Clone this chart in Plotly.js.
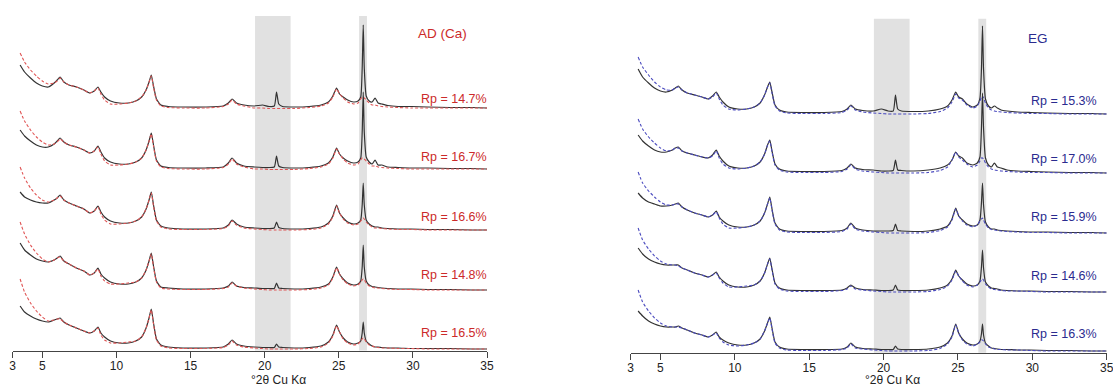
<!DOCTYPE html>
<html>
<head>
<meta charset="utf-8">
<script src="https://cdn.plot.ly/plotly-3.0.1.min.js"></script>
<style>html,body{margin:0;padding:0;background:#fff;}#chart{width:1113px;height:388px;}</style>
</head>
<body>
<div id="chart"></div>
<script>
// 2-theta grid (degrees, Cu K-alpha)
const twoTheta = [
  3.5, 3.8, 4.2, 4.6, 5.0, 5.4, 5.8, 6.0, 6.2, 6.45, 6.8, 7.3,
  7.8, 8.2, 8.5, 8.75, 8.95, 9.2, 9.6, 10.2, 10.8, 11.3, 11.7, 12.0,
  12.2, 12.35, 12.5, 12.7, 13.0, 13.5, 14.5, 16.0, 17.2, 17.55, 17.8, 18.1,
  18.6, 19.3, 19.85, 20.3, 20.65, 20.8, 20.95, 21.2, 22.0, 23.0, 23.8, 24.3,
  24.6, 24.85, 25.05, 25.3, 25.6, 26.0, 26.3, 26.48, 26.58, 26.65, 26.72, 26.85,
  27.05, 27.25, 27.45, 27.65, 27.9, 28.3, 29.0, 29.9, 31.0, 32.5, 34.0, 35.0
];
const xTicks = [3, 5, 10, 15, 20, 25, 30, 35];
const xTickLabels = ["3", "5", "10", "15", "20", "25", "30", "35"];
const excludedZones = [[19.35, 21.75], [26.37, 26.9]];

const adLabels = ["Rp = 14.7%", "Rp = 16.7%", "Rp = 16.6%", "Rp = 14.8%", "Rp = 16.5%"];
const egLabels = ["Rp = 15.3%", "Rp = 17.0%", "Rp = 15.9%", "Rp = 14.6%", "Rp = 16.3%"];
const panelTitles = ["AD (Ca)", "EG"];
const axisTitle = "°2θ Cu Kα";

// AD (Ca) — observed / calculated intensities (arbitrary units above each pattern's baseline)
const adObs1 = [43,36,30,25,22,21,25,28,31,26,23,21, 18,15,17,21,16,11,7,5,5,7,11,18, 26,33,22,9,3,1.5,1,1,2,5,9,5, 3,2,3,1.5,2,16,4,1.5,1,1.5,3,6, 12,20,14,11,8,6,7,11,40,83,40,12, 7,6,10,5,4,2.5,1.5,1.5,1,0.5,0.5,0];
const adCalc1 = [55,46,38,32,27,24,25,27,30,26,23,21, 18,15,17,20,14,8,4,4,5,7,11,18, 26,32,21,8,2,0.5,0,0,1.5,4,8,4, 2,0,0,-0.5,-0.5,-0.5,-0.5,-0.5,-0.5,0.5,2,5, 11,19,14,10,6,4,5,9,11,11,10,8, 5,3,3,2,1.5,1,0.5,0,0,0,0,0];
const adObs2 = [39,33,28,24,22,22,25,28,31,27,24,22, 19,16,18,23,17,11,7,5,5,7,11,19, 28,36,24,9,3,1.5,1,1,2,6,11,6, 3,2,1.5,1.5,2,13,3,1.5,1,1.5,3,6, 12,21,15,11,8,6,7,11,37,77,37,12, 7,5,9,4,4,2,1.5,1,1,0.5,0.5,0];
const adCalc2 = [58,48,39,32,27,24,25,27,30,27,24,22, 19,16,18,22,15,8,4,4,5,7,11,19, 28,35,23,8,2,0.5,0,0,1.5,5,10,5, 2,0,0,-0.5,-0.5,-0.5,-0.5,-0.5,-0.5,0.5,2,5, 11,20,15,10,6,4,5,9,11,11,10,8, 5,3,3,2,1.5,1,0.5,0,0,0,0,0];
const adObs3 = [38,33,30,28,27,27,30,32,35,30,27,24, 21,17,19,24,18,13,9,7,7,9,13,21, 30,38,25,10,4,2,1,1,2,5,10,6, 3,2,1.5,1.5,2,8,2.5,1.5,1,1.5,3,7, 14,25,17,12,8,6,7,10,25,47,25,10, 6,4,3,3,2,1.5,1,1,0.5,0.5,0,0];
const adCalc3 = [63,52,42,35,30,28,30,32,34,30,27,24, 21,17,19,23,16,10,6,6,7,9,13,21, 30,37,24,9,3,1,0.5,0.5,1.5,4,9,5, 2,1,0.5,0,0,0,0,0,0,0.5,2,6, 13,24,17,11,7,5,6,9,11,12,11,8, 5,3,2,2,1.5,1,0.5,0.5,0,0,0,0];
const adObs4 = [47,40,35,31,29,28,30,32,34,29,26,22, 19,15,17,22,16,12,8,6,6,8,12,20, 29,37,24,9,3,2,1,1,2,4,8,4, 2.5,2,1.5,1.5,1.5,7,2,1.5,1,1.5,3,6, 13,23,16,11,7,5,6,9,23,45,23,9, 5,3.5,3,2.5,2,1.5,1,1,0.5,0.5,0,0];
const adCalc4 = [68,56,45,37,31,28,30,32,33,29,26,22, 19,15,17,21,14,9,6,6,7,8,12,20, 29,36,23,8,2,1,0.5,0.5,1.5,3,7,4, 2,1,0.5,0,0,0,0,0,0,0.5,2,5, 12,22,16,10,6,4,5,8,10,11,10,7, 4,3,2,2,1.5,1,0.5,0.5,0,0,0,0];
const adObs5 = [43,37,33,30,28,27,29,30,31,27,24,21, 18,16,18,22,16,12,8,6,6,8,12,21, 31,40,26,10,4,2,1,1,2,5,9,5, 3,2,1.5,1.5,1.5,5,2,1.5,1,1.5,3,7, 14,24,17,11,7,5,6,8,16,27,16,8, 5,3,2,2,1.5,1,1,0.5,0.5,0.5,0,0];
const adCalc5 = [70,57,46,38,32,28,29,30,30,27,24,21, 18,16,18,21,14,9,6,6,7,8,12,21, 31,39,25,9,3,1,0.5,0.5,1.5,4,8,4, 2,1,0.5,0,0,0,0,0,0,0.5,2,6, 13,23,17,10,6,4,5,8,10,11,10,7, 4,3,2,1.5,1,1,0.5,0.5,0,0,0,0];

// EG — observed / calculated intensities
const egObs1 = [45,37,31,26,23,22,24,26,28,24,21,19, 17,15,18,22,17,12,7,5,5,7,11,19, 27,32,22,9,4,2,1.5,1.5,2.5,5,9,5, 3.5,3,5,3,3,19,5,3,2.5,3,5,8, 14,22,17,15,10,7,9,16,45,88,45,15, 8,6,8,6,4,3,2,1.5,1,0.5,0.5,0];
const egCalc1 = [57,47,39,32,27,24,24,26,27,24,21,19, 17,15,17,21,15,9,5,4,5,7,11,19, 27,31,21,8,3,1,0.5,0.5,1.5,4,8,4, 2,1,0.5,0,0,0,0,0,0,0.5,2.5,6, 12,20,16,14,9,6,8,13,17,18,16,11, 6,4,3,2.5,2,1.5,1,0.5,0.5,0,0,0];
const egObs2 = [38,32,27,23,21,21,23,25,26,22,20,18, 16,15,18,23,17,12,7,5,5,7,11,19, 28,33,22,9,4,2,1.5,1.5,2.5,5,9,5, 3.5,3,2,2,2.5,13,3,2.5,2,3,5,8, 13,21,17,15,10,8,10,16,45,80,45,15, 8,6,10,6,5,3,2,1.5,1,0.5,0.5,0];
const egCalc2 = [54,44,36,30,25,22,23,25,25,22,20,18, 16,15,17,22,15,9,5,4,5,7,11,19, 28,32,21,8,3,1,0.5,0.5,1.5,4,8,4, 2,1,0.5,0,0,0,0,0,0,0.5,2.5,6, 13,21,16,13,9,6,8,12,15,15,14,10, 6,4,3,2.5,2,1.5,1,0.5,0.5,0,0,0];
const egObs3 = [40,35,31,29,27,27,28,29,30,26,23,20, 18,16,18,22,16,12,8,6,6,8,12,20, 29,36,24,10,4,2,1.5,1.5,2.5,5,10,5, 3,2,2,2,2.5,9,2.5,2,1.5,2,4,7, 14,25,17,13,9,7,8,13,30,50,28,11, 6,4,4,3,2.5,2,1.5,1,1,0.5,0.5,0];
const egCalc3 = [61,50,42,36,31,28,28,29,29,26,23,20, 18,16,18,21,15,9,5,5,6,8,12,20, 29,35,23,9,3,1,0.5,0.5,1.5,4,9,4, 2,1,0.5,0,0,0,0,0,0,0.5,2.5,6, 13,24,17,12,8,6,8,12,14,15,13,9, 5,3.5,3,2.5,2,1.5,1,0.5,0.5,0,0,0];
const egObs4 = [44,38,33,30,28,27,27,27,27,24,22,19, 17,15,17,20,15,11,7,5,5,7,11,19, 28,34,23,9,4,2,1.5,1.5,2,4,7,4, 2.5,2,1.5,1.5,2,7,2,1.5,1.5,2,4,7, 13,22,16,12,8,6,7,11,25,42,24,10, 6,4,3.5,3,2,1.5,1,1,0.5,0.5,0,0];
const egCalc4 = [64,52,43,36,31,28,27,27,26,24,22,19, 17,15,17,19,14,9,5,5,6,7,11,19, 28,33,22,8,3,1,0.5,0.5,1.5,3,6,3, 2,1,0.5,0,0,0,0,0,0,0.5,2.5,6, 12,21,16,11,7,5,7,10,12,13,12,8, 5,3,2.5,2,1.5,1,1,0.5,0,0,0,0];
const egObs5 = [40,35,30,27,25,24,24,24,25,23,21,18, 16,14,16,19,14,11,8,6,6,8,12,20, 28,34,23,9,4,2,1.5,1.5,2,4,8,4, 2.5,2,1.5,1.5,1.5,5,2,1.5,1.5,2,4,8, 15,27,18,12,8,6,7,10,17,27,16,8, 5,3,2.5,2,1.5,1.5,1,1,0.5,0.5,0,0];
const egCalc5 = [61,49,40,33,28,25,24,24,24,23,21,18, 16,14,16,18,13,9,6,5,6,8,12,20, 28,33,22,8,3,1,0.5,0.5,1.5,3,7,3, 2,1,0.5,0,0,0,0,0,0,0.5,2.5,7, 14,26,18,11,7,5,7,9,11,11,10,7, 4,3,2,1.5,1.5,1,1,0.5,0,0,0,0];

// ---------- drawing ----------
const W = 1113, H = 388;
const FONT = "Liberation Sans, Arial, sans-serif";
const RED = "#cc2a2a", BLUE = "#2b2b8f";
const OBS_COLOR = "#333333";

// plot area pixel boxes
const L = {x0: 12.7, x1: 487, yTop: 16, yBot: 350.6};
const R = {x0: 630.7, x1: 1106.7, yTop: 18.7, yBot: 352.7};
// vertical stacking offsets (plot units = px above axis)
const adOffsets = [242.6, 181.6, 120.6, 60.6, 1.6];
const egOffsets = [238.7, 179.7, 119.7, 60.7, 1.7];

const adObs = [adObs1, adObs2, adObs3, adObs4, adObs5];
const adCalc = [adCalc1, adCalc2, adCalc3, adCalc4, adCalc5];
const egObs = [egObs1, egObs2, egObs3, egObs4, egObs5];
const egCalc = [egCalc1, egCalc2, egCalc3, egCalc4, egCalc5];

const traces = [];
function addPanel(obs, calc, offsets, xa, ya, calcColor) {
  for (let k = 0; k < obs.length; k++) {
    traces.push({x: twoTheta, y: obs[k].map(v => v + offsets[k]), xaxis: xa, yaxis: ya,
      type: "scatter", mode: "lines", line: {color: OBS_COLOR, width: 1.2, shape: "spline", smoothing: 0.5}, hoverinfo: "skip"});
    traces.push({x: twoTheta, y: calc[k].map(v => v + offsets[k]), xaxis: xa, yaxis: ya,
      type: "scatter", mode: "lines", line: {color: calcColor, width: 1.1, dash: "3px,2px", shape: "spline", smoothing: 0.5}, hoverinfo: "skip"});
  }
}
addPanel(adObs, adCalc, adOffsets, "x", "y", "#e05555");
addPanel(egObs, egCalc, egOffsets, "x2", "y2", "#4b4bbf");

const px = v => v / W;
const py = v => 1 - v / H;

const xaxisBase = {
  range: [3, 35], tickvals: xTicks, ticktext: xTickLabels, ticks: "outside", ticklen: 6,
  tickcolor: "#444", tickwidth: 1, showline: true, linecolor: "#444", linewidth: 1,
  showgrid: false, zeroline: false, fixedrange: true, ticklabeloverflow: "allow",
  ticklabelstandoff: -2,
  tickfont: {family: FONT, size: 12, color: "#222"}
};

const shapes = [];
[["x", "y"], ["x2", "y2"]].forEach(([xa, ya]) => {
  excludedZones.forEach(z => shapes.push({type: "rect", xref: xa, yref: ya + " domain",
    x0: z[0], x1: z[1], y0: 0, y1: 1, fillcolor: "#e1e1e1", line: {width: 0}, layer: "below"}));
});

const annotations = [];
const adLabelY = [99, 157, 217, 275, 333];
const egLabelY = [101, 159, 217, 276, 334];
adLabels.forEach((t, i) => annotations.push({xref: "paper", yref: "paper", x: px(489), y: py(adLabelY[i]),
  xanchor: "right", yanchor: "middle", text: t, showarrow: false, font: {family: FONT, size: 12.5, color: RED}}));
egLabels.forEach((t, i) => annotations.push({xref: "paper", yref: "paper", x: px(1099), y: py(egLabelY[i]),
  xanchor: "right", yanchor: "middle", text: t, showarrow: false, font: {family: FONT, size: 12.5, color: BLUE}}));
annotations.push({xref: "paper", yref: "paper", x: px(442.5), y: py(33), xanchor: "center", yanchor: "middle",
  text: panelTitles[0], showarrow: false, font: {family: FONT, size: 13.5, color: RED}});
annotations.push({xref: "paper", yref: "paper", x: px(1037.5), y: py(39), xanchor: "center", yanchor: "middle",
  text: panelTitles[1], showarrow: false, font: {family: FONT, size: 13.5, color: BLUE}});
annotations.push({xref: "paper", yref: "paper", x: px(278), y: 0, xanchor: "center", yanchor: "bottom",
  text: axisTitle, showarrow: false, borderpad: 0, font: {family: FONT, size: 12, color: "#222"}});
annotations.push({xref: "paper", yref: "paper", x: px(892), y: 0, xanchor: "center", yanchor: "bottom",
  text: axisTitle, showarrow: false, borderpad: 0, font: {family: FONT, size: 12, color: "#222"}});

const layout = {
  width: W, height: H, margin: {l: 0, r: 0, t: 0, b: 0},
  paper_bgcolor: "#fff", plot_bgcolor: "rgba(0,0,0,0)", showlegend: false,
  xaxis: Object.assign({}, xaxisBase, {domain: [px(L.x0), px(L.x1)], anchor: "y"}),
  yaxis: {domain: [1 - L.yBot / H, 1 - L.yTop / H], range: [0, L.yBot - L.yTop], visible: false, fixedrange: true},
  xaxis2: Object.assign({}, xaxisBase, {domain: [px(R.x0), px(R.x1)], anchor: "y2"}),
  yaxis2: {domain: [1 - R.yBot / H, 1 - R.yTop / H], range: [0, R.yBot - R.yTop], visible: false, fixedrange: true},
  shapes: shapes, annotations: annotations
};

Plotly.newPlot("chart", traces, layout, {displayModeBar: false, staticPlot: true});
</script>
</body>
</html>
